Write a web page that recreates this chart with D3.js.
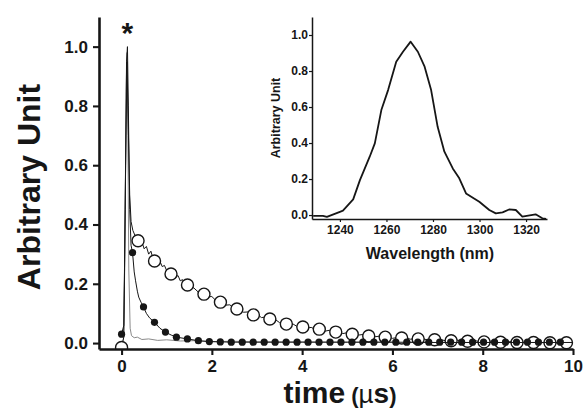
<!DOCTYPE html>
<html>
<head>
<meta charset="utf-8">
<script src="https://cdn.jsdelivr.net/npm/d3@7"></script>
<style>
  body { margin: 0; background: #fff; }
  svg { display: block; font-family: "Liberation Sans", Arial, sans-serif; font-weight: bold; }
</style>
</head>
<body>
<svg id="chart" width="586" height="414"></svg>
<script>
"use strict"

const WIDTH = 586;
const HEIGHT = 414;
const MAIN = { left: 99, right: 573, top: 17, bottom: 349 };
const INSET = { left: 312, right: 547, top: 17, bottom: 219 };
const INK = "#161616";

// gray trace (the spike marked with *)
const SPIKE_X = [0.0, 0.04, 0.07, 0.1, 0.12, 0.14, 0.16, 0.19, 0.22, 0.28, 0.35, 0.45, 0.6, 0.8, 1.0, 1.3, 1.6, 2.0, 2.5, 3.0, 4.0, 5.0, 6.0, 7.0, 8.0, 9.0, 10.0];
const SPIKE_Y = [0.0, 0.01, 0.25, 0.85, 0.98, 0.7, 0.25, 0.05, 0.025, 0.018, 0.02, 0.012, 0.014, 0.009, 0.011, 0.007, 0.008, 0.005, 0.006, 0.004, 0.004, 0.003, 0.003, 0.002, 0.002, 0.001, 0.001];

// open circle trace: raw line + markers
const OPEN_LINE_X = [0.0, 0.05, 0.09, 0.12, 0.15, 0.18, 0.21, 0.25, 0.30, 0.35, 0.40, 0.45, 0.50, 0.55, 0.60, 0.65, 0.70, 0.75, 0.80, 0.85, 0.90, 0.95, 1.00, 1.05, 1.10, 1.15, 1.20, 1.25, 1.30, 1.35, 1.40, 1.45, 1.50, 1.60, 1.70, 1.80, 1.90, 2.00, 2.10, 2.20, 2.30, 2.40, 2.50, 2.60, 2.70, 2.80, 2.90, 3.00, 3.10, 3.20, 3.30, 3.40, 3.50, 3.60, 3.70, 3.80, 3.90, 4.00, 4.10, 4.20, 4.30, 4.40, 4.50, 4.60, 4.70, 4.80, 4.90, 5.00, 5.20, 5.40, 5.60, 5.80, 6.00, 6.20, 6.40, 6.60, 6.80, 7.00, 7.20, 7.40, 7.60, 7.80, 8.00, 8.20, 8.40, 8.60, 8.80, 9.00, 9.20, 9.40, 9.60, 9.80, 10.0];
const OPEN_LINE_Y = [-0.01, 0.02, 0.6, 0.95, 0.72, 0.5, 0.41, 0.38, 0.362, 0.348, 0.335, 0.342, 0.318, 0.326, 0.300, 0.310, 0.283, 0.290, 0.268, 0.276, 0.258, 0.262, 0.244, 0.250, 0.229, 0.236, 0.222, 0.228, 0.210, 0.214, 0.198, 0.205, 0.190, 0.186, 0.172, 0.170, 0.156, 0.157, 0.142, 0.141, 0.128, 0.129, 0.116, 0.117, 0.104, 0.105, 0.094, 0.097, 0.086, 0.088, 0.078, 0.080, 0.069, 0.071, 0.061, 0.064, 0.055, 0.058, 0.050, 0.053, 0.045, 0.049, 0.040, 0.043, 0.036, 0.040, 0.032, 0.035, 0.026, 0.030, 0.021, 0.025, 0.016, 0.021, 0.013, 0.017, 0.010, 0.014, 0.007, 0.011, 0.005, 0.009, 0.003, 0.007, 0.002, 0.005, 0.001, 0.004, 0.000, 0.003, 0.000, 0.002, 0.0];
const OPEN_X = [0, 0.365, 0.73, 1.095, 1.46, 1.825, 2.19, 2.555, 2.92, 3.285, 3.65, 4.015, 4.38, 4.745, 5.11, 5.475, 5.84, 6.205, 6.57, 6.935, 7.3, 7.665, 8.03, 8.395, 8.76, 9.125, 9.49, 9.855];
const OPEN_Y = [-0.015, 0.345, 0.277, 0.233, 0.196, 0.165, 0.138, 0.115, 0.095, 0.081, 0.064, 0.054, 0.047, 0.037, 0.030, 0.024, 0.020, 0.017, 0.014, 0.011, 0.008, 0.006, 0.004, 0.003, 0.002, 0.002, 0.001, 0.001];

// filled circle trace: raw line + markers
const FILL_LINE_X = [0, 0.05, 0.08, 0.11, 0.13, 0.15, 0.18, 0.21, 0.243, 0.28, 0.31, 0.35, 0.38, 0.43, 0.486, 0.55, 0.62, 0.729, 0.85, 0.972, 1.1, 1.215, 1.458, 1.701, 1.944, 2.187, 2.5, 3.0, 4.0, 5.0, 6.0, 7.0, 8.0, 9.0, 10.0];
const FILL_LINE_Y = [0.03, 0.06, 0.45, 0.95, 1.0, 0.8, 0.45, 0.33, 0.305, 0.24, 0.21, 0.175, 0.155, 0.138, 0.122, 0.1, 0.085, 0.07, 0.05, 0.037, 0.027, 0.02, 0.014, 0.008, 0.005, 0.004, 0.003, 0.003, 0.003, 0.003, 0.003, 0.002, 0.002, 0.002, 0.002];
const FILL_X = [0, 0.243, 0.486, 0.729, 0.972, 1.215, 1.458, 1.701, 1.944, 2.187, 2.43, 2.673, 2.916, 3.159, 3.402, 3.645, 3.888, 4.131, 4.374, 4.617, 4.86, 5.103, 5.346, 5.589, 5.832, 6.075, 6.318, 6.561, 6.804, 7.047, 7.29, 7.533, 7.776, 8.019, 8.262, 8.505, 8.748, 8.991, 9.234, 9.477, 9.72];
const FILL_Y = [0.03, 0.305, 0.122, 0.07, 0.037, 0.02, 0.014, 0.008, 0.005, 0.004, 0.003, 0.003, 0.003, 0.003, 0.003, 0.003, 0.003, 0.003, 0.003, 0.003, 0.003, 0.003, 0.003, 0.003, 0.003, 0.003, 0.003, 0.003, 0.003, 0.003, 0.003, 0.003, 0.003, 0.003, 0.003, 0.003, 0.003, 0.003, 0.003, 0.003, 0.003];

// inset spectrum
const INSET_NM = [1228.5, 1232.7, 1234.4, 1240, 1241.3, 1245.7, 1248.6, 1252.8, 1255, 1257.8, 1260.7, 1264.2, 1267.1, 1270.4, 1273.5, 1276.4, 1279.2, 1282, 1284.9, 1288.5, 1291.3, 1294.2, 1299.9, 1304.2, 1307, 1309.9, 1312.7, 1315.6, 1318.4, 1324.1, 1327, 1328.6];
const INSET_Y = [-0.005, -0.005, -0.01, 0.018, 0.024, 0.087, 0.194, 0.324, 0.398, 0.583, 0.694, 0.852, 0.907, 0.963, 0.907, 0.824, 0.694, 0.49, 0.352, 0.259, 0.204, 0.12, 0.074, 0.028, 0.009, 0.015, 0.031, 0.028, -0.009, 0.004, -0.018, -0.022];

const MAIN_X_TICKS = [0, 2, 4, 6, 8, 10];
const MAIN_X_MINOR = [1, 3, 5, 7, 9];
const MAIN_Y_TICKS = [0, 0.2, 0.4, 0.6, 0.8, 1.0];
const MAIN_Y_MINOR = [0.1, 0.3, 0.5, 0.7, 0.9, 1.1];
const INSET_X_TICKS = [1240, 1260, 1280, 1300, 1320];
const INSET_X_MINOR = [1230, 1250, 1270, 1290, 1310];
const INSET_Y_TICKS = [0, 0.2, 0.4, 0.6, 0.8, 1.0];
const INSET_Y_MINOR = [0.1, 0.3, 0.5, 0.7, 0.9];

const svg = d3.select("#chart");

function zip(xs, ys) {
    return xs.map((x, i) => ({ x: x, y: ys[i] }));
}

function drawAxes(g, xs, ys, opt) {
    const xg = g.append("g").attr("transform", `translate(0,${ys.range()[0]})`);
    xg.call(d3.axisBottom(xs).tickValues(opt.xMinor).tickSize(opt.minor).tickFormat(""));
    xg.call(d3.axisBottom(xs).tickValues(opt.xTicks).tickSize(opt.major).tickSizeOuter(0)
        .tickPadding(opt.xPad).tickFormat(opt.xFmt));
    const yg = g.append("g").attr("transform", `translate(${xs.range()[0]},0)`);
    yg.call(d3.axisLeft(ys).tickValues(opt.yMinor).tickSize(opt.minor).tickFormat(""));
    yg.call(d3.axisLeft(ys).tickValues(opt.yTicks).tickSize(opt.major).tickSizeOuter(0)
        .tickPadding(opt.yPad).tickFormat(d3.format(".1f")));
    g.selectAll(".domain").attr("stroke", INK).attr("stroke-width", opt.width);
    g.selectAll(".tick line").attr("stroke", INK).attr("stroke-width", opt.width * 0.8);
    g.selectAll(".tick text").attr("fill", INK).attr("font-size", opt.font)
        .attr("font-family", "Liberation Sans, Arial, sans-serif").attr("font-weight", "bold");
}

// ---- main plot
const x = d3.scaleLinear([-0.5, 10], [MAIN.left, MAIN.right]);
const y = d3.scaleLinear([-0.02, 1.1], [MAIN.bottom, MAIN.top]);
const line = d3.line().x(d => x(d.x)).y(d => y(d.y));

svg.append("clipPath").attr("id", "clip-main").append("rect")
    .attr("x", MAIN.left).attr("y", MAIN.top)
    .attr("width", MAIN.right - MAIN.left + 8).attr("height", MAIN.bottom - MAIN.top);

const plot = svg.append("g").attr("clip-path", "url(#clip-main)");
plot.append("path").attr("d", line(zip(SPIKE_X, SPIKE_Y)))
    .attr("fill", "none").attr("stroke", "#8a8a8a").attr("stroke-width", 1);
plot.append("path").attr("d", line(zip(OPEN_LINE_X, OPEN_LINE_Y)))
    .attr("fill", "none").attr("stroke", INK).attr("stroke-width", 1);
plot.append("g").selectAll("circle").data(zip(OPEN_X, OPEN_Y)).join("circle")
    .attr("cx", d => x(d.x)).attr("cy", d => y(d.y)).attr("r", 6)
    .attr("fill", "#fff").attr("stroke", INK).attr("stroke-width", 1.4);
plot.append("path").attr("d", line(zip(FILL_LINE_X, FILL_LINE_Y)))
    .attr("fill", "none").attr("stroke", INK).attr("stroke-width", 1);
plot.append("g").selectAll("circle").data(zip(FILL_X, FILL_Y)).join("circle")
    .attr("cx", d => x(d.x)).attr("cy", d => y(d.y)).attr("r", 3.6)
    .attr("fill", INK);

drawAxes(svg.append("g"), x, y, {
    xTicks: MAIN_X_TICKS, xMinor: MAIN_X_MINOR, yTicks: MAIN_Y_TICKS, yMinor: MAIN_Y_MINOR,
    major: 6, minor: 3, width: 2.6, font: 17, xPad: 5, yPad: 5, xFmt: d3.format("d")
});

svg.append("text").text("*")
    .attr("x", x(0.13)).attr("y", 43).attr("text-anchor", "middle")
    .attr("font-size", 30).attr("fill", INK);

svg.append("text").text("Arbitrary Unit")
    .attr("transform", "translate(40,187) rotate(-90)")
    .attr("text-anchor", "middle").attr("font-size", 32).attr("fill", INK);

const xl = svg.append("text").attr("x", 340).attr("y", 403)
    .attr("text-anchor", "middle").attr("fill", INK);
xl.append("tspan").text("time").attr("font-size", 30);
xl.append("tspan").text("(").attr("font-size", 22).attr("dx", 6);
xl.append("tspan").text("µ").attr("font-size", 26).attr("font-weight", "normal");
xl.append("tspan").text("s").attr("font-size", 28);
xl.append("tspan").text(")").attr("font-size", 22);

// ---- inset
const ix = d3.scaleLinear([1228, 1329], [INSET.left, INSET.right]);
const iy = d3.scaleLinear([-0.022, 1.1], [INSET.bottom, INSET.top]);
const iline = d3.line().x(d => ix(d.x)).y(d => iy(d.y));

svg.append("path").attr("d", iline(zip(INSET_NM, INSET_Y)))
    .attr("fill", "none").attr("stroke", INK).attr("stroke-width", 1.8)
    .attr("stroke-linejoin", "round");

drawAxes(svg.append("g"), ix, iy, {
    xTicks: INSET_X_TICKS, xMinor: INSET_X_MINOR, yTicks: INSET_Y_TICKS, yMinor: INSET_Y_MINOR,
    major: 3, minor: 2, width: 1.5, font: 12, xPad: 3, yPad: 1, xFmt: d3.format("d")
});

svg.append("text").text("Arbitrary Unit")
    .attr("transform", "translate(280,118) rotate(-90)")
    .attr("text-anchor", "middle").attr("font-size", 12.5).attr("fill", INK);

svg.append("text").text("Wavelength (nm)")
    .attr("x", 430).attr("y", 259).attr("text-anchor", "middle")
    .attr("font-size", 16).attr("fill", INK);
</script>
</body>
</html>
